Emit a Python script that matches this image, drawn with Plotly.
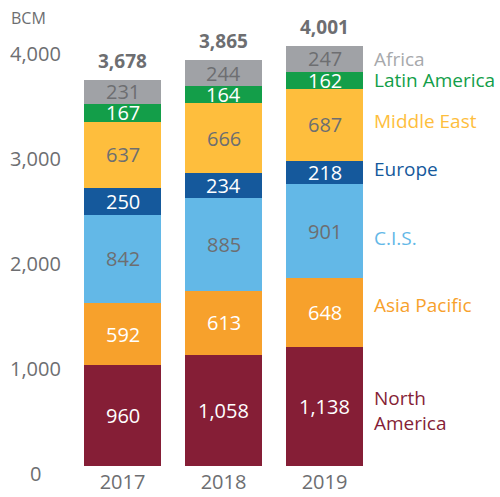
import plotly.graph_objects as go

years = ["2017", "2018", "2019"]
regions = ["North America", "Asia Pacific", "C.I.S.", "Europe", "Middle East", "Latin America", "Africa"]
region_labels = ["North<br>America", "Asia Pacific", "C.I.S.", "Europe", "Middle East", "Latin America", "Africa"]
values = {
    "North America": [960, 1058, 1138],
    "Asia Pacific": [592, 613, 648],
    "C.I.S.": [842, 885, 901],
    "Europe": [250, 234, 218],
    "Middle East": [637, 666, 687],
    "Latin America": [167, 164, 162],
    "Africa": [231, 244, 247],
}
totals = [3678, 3865, 4001]
y_ticks = [0, 1000, 2000, 3000, 4000]
y_tick_labels = ["0", "1,000", "2,000", "3,000", "4,000"]

colors = {
    "North America": "#851E36",
    "Asia Pacific": "#F7A12C",
    "C.I.S.": "#63B8E7",
    "Europe": "#15599C",
    "Middle East": "#FEBE3D",
    "Latin America": "#139E49",
    "Africa": "#A0A2A6",
}
label_colors = {
    "North America": "#851E36",
    "Asia Pacific": "#F7A12C",
    "C.I.S.": "#63B8E7",
    "Europe": "#15599C",
    "Middle East": "#FEBE3D",
    "Latin America": "#139E49",
    "Africa": "#A7A9AC",
}
# small pixel nudges for the right-hand labels (style only)
label_nudge = {
    "North America": -4,
    "Asia Pacific": 7,
    "C.I.S.": -7,
    "Europe": 3,
    "Middle East": 4,
    "Latin America": 0,
    "Africa": 0,
}
inner_text_colors = {
    "North America": "white",
    "Asia Pacific": "white",
    "C.I.S.": "#6D6E71",
    "Europe": "white",
    "Middle East": "#6D6E71",
    "Latin America": "white",
    "Africa": "#6D6E71",
}
GRAY = "#6D6E71"
FONT = "Open Sans"

fig = go.Figure()
for r in regions:
    fig.add_trace(go.Bar(
        x=years, y=values[r], name=r,
        marker=dict(color=colors[r], line=dict(width=0)),
        hoverinfo="x+y+name",
    ))

annotations = []
base = [0, 0, 0]
for k, r in enumerate(regions):
    for i in range(len(years)):
        v = values[r][i]
        annotations.append(dict(
            x=i, y=base[i] + v / 2, xref="x", yref="y",
            text=f"{v:,}", showarrow=False,
            font=dict(family=FONT, size=20, color=inner_text_colors[r]),
        ))
    annotations.append(dict(
        x=1, xref="paper", xanchor="left", xshift=-3,
        y=base[2] + values[r][2] / 2, yref="y", yshift=label_nudge[r],
        text=region_labels[k],
        showarrow=False, align="left",
        font=dict(family=FONT, size=19, color=label_colors[r]),
    ))
    base = [b + v for b, v in zip(base, values[r])]

for i in range(len(years)):
    annotations.append(dict(
        x=i, y=totals[i], xref="x", yref="y", yanchor="bottom", yshift=4,
        text=f"<b>{totals[i]:,}</b>", showarrow=False,
        font=dict(family=FONT, size=19, color=GRAY),
    ))

for t, lab in zip(y_ticks, y_tick_labels):
    annotations.append(dict(
        x=0, xref="paper", xanchor="center", xshift=-37,
        y=t, yref="y", yshift=-7,
        text=lab, showarrow=False,
        font=dict(family=FONT, size=20, color=GRAY),
    ))

annotations.append(dict(
    x=0, xref="paper", xanchor="left", xshift=-63,
    y=1, yref="paper", yanchor="bottom", yshift=-6,
    text="BCM", showarrow=False,
    font=dict(family=FONT, size=16, color=GRAY),
))

fig.update_layout(
    barmode="stack",
    bargap=0.23,
    width=500, height=497,
    margin=dict(l=72, r=125, t=25, b=31, autoexpand=False),
    paper_bgcolor="white", plot_bgcolor="white",
    showlegend=False,
    annotations=annotations,
    font=dict(family=FONT, color=GRAY),
    xaxis=dict(type="category", range=[-0.5, 2.5], showgrid=False, zeroline=False, showline=False,
               tickfont=dict(family=FONT, size=20, color=GRAY), ticks="",
               ticklabelstandoff=2, automargin=False),
    yaxis=dict(range=[0, 4200], showgrid=False, zeroline=False, showline=False,
               showticklabels=False, ticks="", tickvals=y_ticks, automargin=False),
)

fig.write_html("out.html", config={"displayModeBar": False},
               post_script="document.body.style.margin='0';")
